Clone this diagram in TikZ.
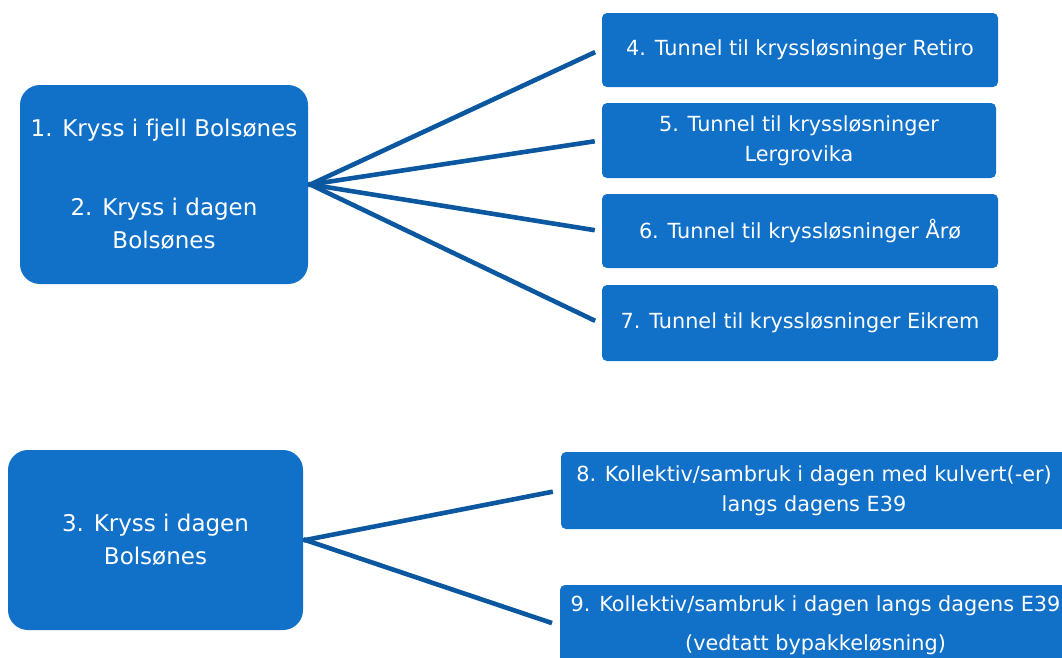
\documentclass[tikz,border=0pt]{standalone}
\usepackage{fontspec}
\setmainfont{DejaVu Sans}
\usepackage{tikz}

\definecolor{boxblue}{RGB}{17,112,199}
\definecolor{lineblue}{RGB}{12,88,160}

\begin{document}
\begin{tikzpicture}[
            x = 1pt, y = -1pt, % pixel units, y going down
            line width = 4.6pt, % connector width
            lineblue
        ]

        \tikzstyle{bigbox}=[
            fill = boxblue,
            text = white,
            align = center,
            inner sep = 0pt,
            rounded corners = 20pt,
            font = \fontsize{23}{33}\selectfont
        ]
        \tikzstyle{smallbox}=[
            fill = boxblue,
            text = white,
            align = center,
            inner sep = 0pt,
            rounded corners = 5pt,
            font = \fontsize{20.8}{30}\selectfont
        ]

        \useasboundingbox (0,0) rectangle (1062,657);

        % left boxes
        \node[bigbox, minimum width=288pt, minimum height=199pt] (kryssA) at (164,184.5)
            {1. Kryss i fjell Bolsønes\\[46pt]2. Kryss i dagen\\Bolsønes};
        \node[bigbox, minimum width=295pt, minimum height=180pt] (kryssB) at (155.5,540)
            {3. Kryss i dagen\\Bolsønes};

        % tunnel options
        \node[smallbox, minimum width=396pt, minimum height=74pt] (retiro) at (800,50)
            {4. Tunnel til kryssløsninger Retiro};
        \node[smallbox, minimum width=394pt, minimum height=75pt] (lergrovika) at (799,140.5)
            {5. Tunnel til kryssløsninger\\Lergrovika};
        \node[smallbox, minimum width=396pt, minimum height=74pt] (aaro) at (800,231)
            {6. Tunnel til kryssløsninger Årø};
        \node[smallbox, minimum width=396pt, minimum height=76pt] (eikrem) at (800,323)
            {7. Tunnel til kryssløsninger Eikrem};

        % kollektiv options
        \node[smallbox, minimum width=506pt, minimum height=77pt] (kulvert) at (814,490.5)
            {8. Kollektiv/sambruk i dagen med kulvert(-er)\\langs dagens E39};
        \node[smallbox, minimum width=511pt, minimum height=80pt] (bypakke) at (815.5,625)
            {9. Kollektiv/sambruk i dagen langs dagens E39\\[9pt](vedtatt bypakkeløsning)};

        \path[shorten > = 5pt, shorten < = -2pt]
            (kryssA.east) edge (retiro.west)
            (kryssA.east) edge (lergrovika.west)
            (kryssA.east) edge (aaro.west)
            (kryssA.east) edge (eikrem.west);
        \path[shorten > = 6pt, shorten < = -2pt]
            (kryssB.east) edge (kulvert.west)
            (kryssB.east) edge (bypakke.west);

  \end{tikzpicture}
\end{document}
